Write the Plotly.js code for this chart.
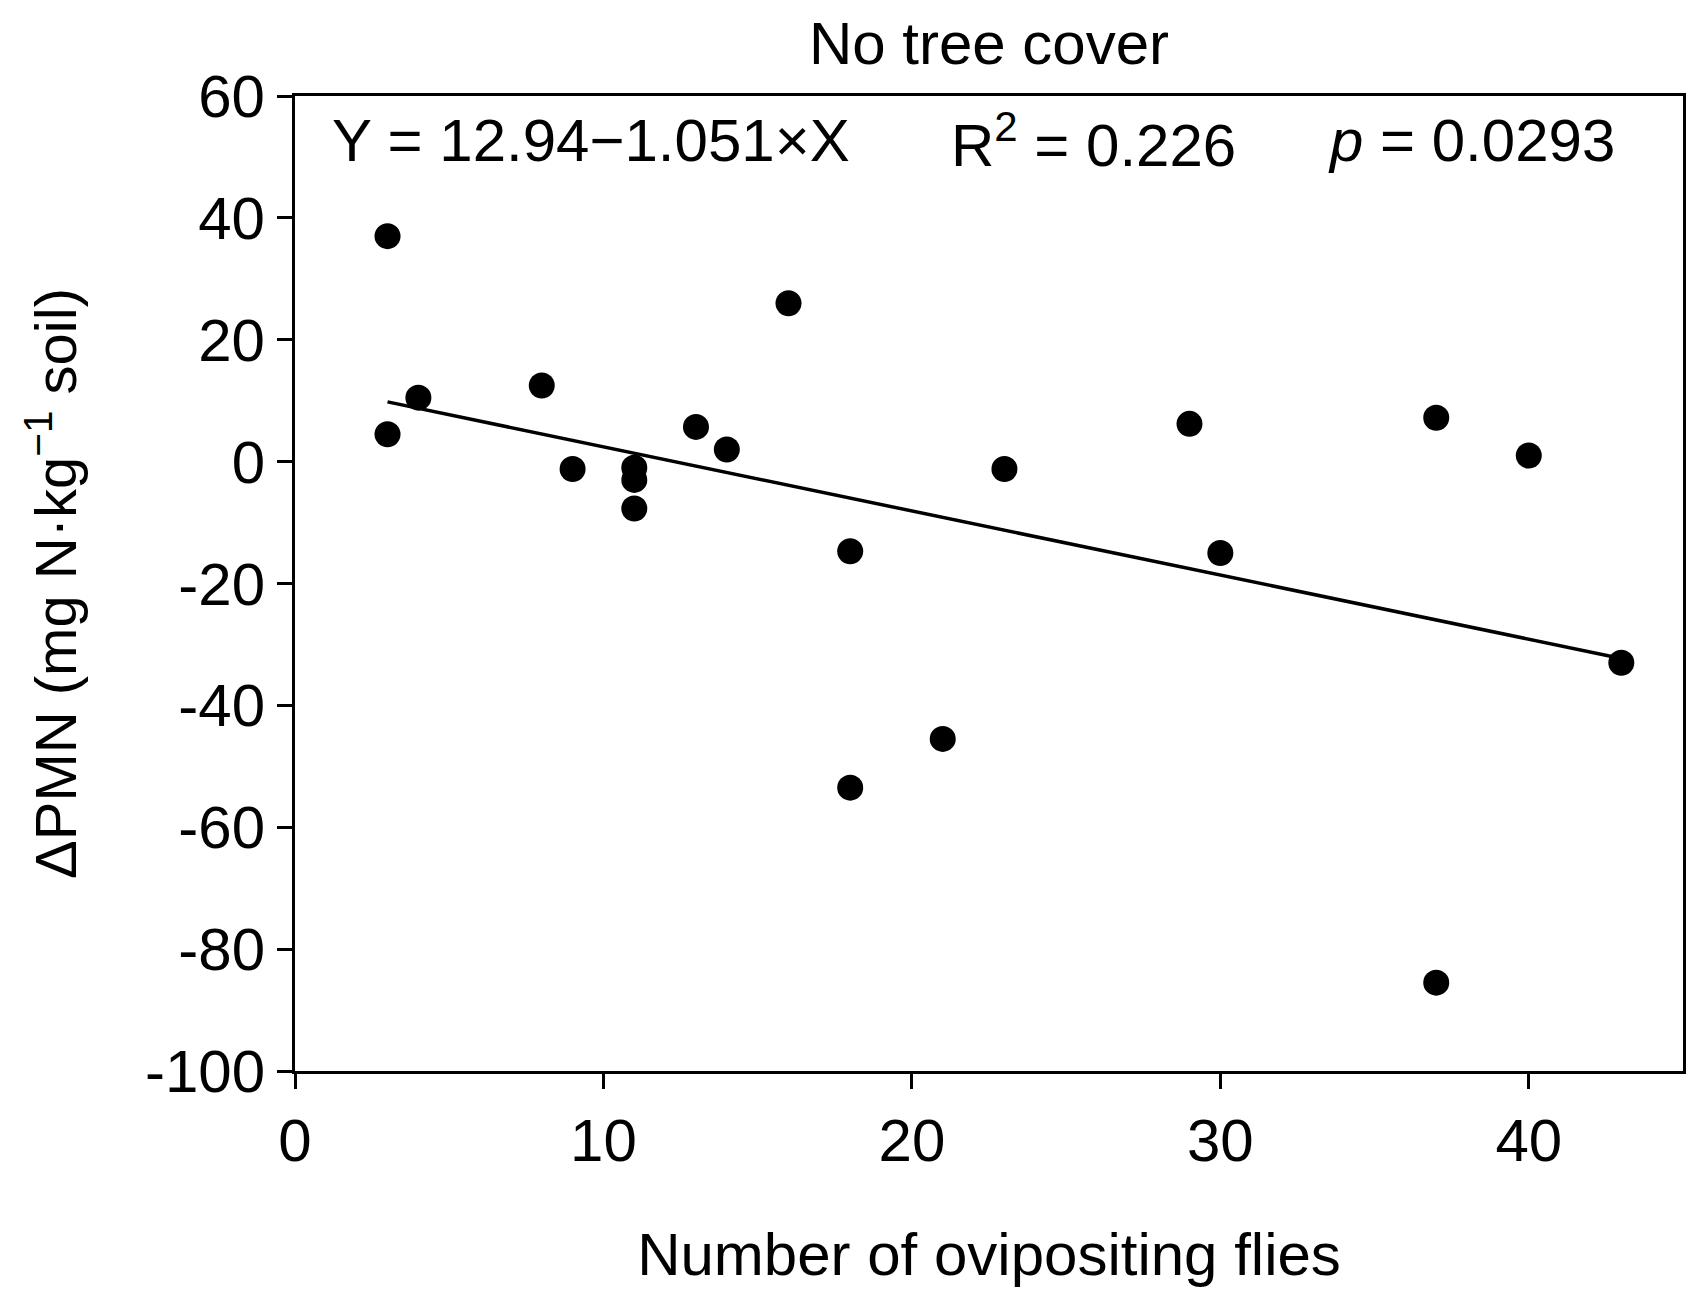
<!DOCTYPE html>
<html>
<head>
<meta charset="utf-8">
<script src="https://cdn.plot.ly/plotly-3.0.1.min.js"></script>
<style>html,body{margin:0;padding:0;background:#fff;}#chart{width:1694px;height:1299px;}</style>
</head>
<body>
<div id="chart"></div>
<script>
// Observed points
const fliesX = [3, 3, 4, 8, 9, 11, 11, 11, 13, 14, 16, 18, 18, 21, 23, 29, 30, 37, 37, 40, 43];
const deltaPMN = [37, 4.5, 10.5, 12.5, -1.2, -1, -3, -7.7, 5.7, 2, 26, -14.7, -53.5, -45.5, -1.2, 6.2, -15, 7.2, -85.5, 1, -33];
// Fitted line endpoints (as drawn)
const fitX = [3, 43];
const fitY = [9.8, -32.3];
// Texts
const titleText = "No tree cover";
const xTitle = "Number of ovipositing flies";
const yTitle = "ΔPMN (mg N·kg<sup>−1</sup> soil)";
const eqText = "Y = 12.94−1.051×X";
const r2Text = "R<sup>2</sup> = 0.226";
const pText = "<i>p</i> = 0.0293";
const xTicks = [0, 10, 20, 30, 40];
const yTicks = [-100, -80, -60, -40, -20, 0, 20, 40, 60];

const FONT = "Liberation Sans, Arial, sans-serif";

const traces = [
  {x: fitX, y: fitY, mode: "lines", type: "scatter", line: {color: "#000", width: 3.5}, hoverinfo: "skip", showlegend: false},
  {x: fliesX, y: deltaPMN, mode: "markers", type: "scatter", marker: {color: "#000", size: 26}, showlegend: false}
];

const layout = {
  width: 1694, height: 1299,
  margin: {l: 295, r: 11, t: 96, b: 228},
  paper_bgcolor: "#fff", plot_bgcolor: "#fff",
  font: {family: FONT, size: 60, color: "#000"},
  title: {text: titleText, font: {family: FONT, size: 60, color: "#000"}, x: 0.5, xref: "paper", xanchor: "center", y: 1 - 43/1299, yref: "container", yanchor: "middle"},
  xaxis: {
    range: [0, 45], tickvals: xTicks, ticktext: xTicks.map(String),
    ticks: "outside", ticklen: 15, tickwidth: 3, tickcolor: "#000",
    showline: true, linecolor: "#000", linewidth: 3, mirror: true,
    showgrid: false, zeroline: false,
    tickfont: {family: FONT, size: 60, color: "#000"},
    title: {text: xTitle, font: {family: FONT, size: 60, color: "#000"}, standoff: 60}
  },
  yaxis: {
    range: [-100, 60], tickvals: yTicks, ticktext: yTicks.map(String),
    ticks: "outside", ticklen: 15, tickwidth: 3, tickcolor: "#000",
    showline: true, linecolor: "#000", linewidth: 3, mirror: true,
    showgrid: false, zeroline: false,
    tickfont: {family: FONT, size: 60, color: "#000"},
    title: {text: yTitle, font: {family: FONT, size: 58, color: "#000"}, standoff: 50}
  },
  annotations: [
    {text: eqText, xref: "paper", yref: "paper", x: 0.025, y: 0.954, xanchor: "left", yanchor: "middle", showarrow: false, font: {family: FONT, size: 60, color: "#000"}},
    {text: r2Text, xref: "paper", yref: "paper", x: 0.471, y: 0.954, xanchor: "left", yanchor: "middle", showarrow: false, font: {family: FONT, size: 60, color: "#000"}},
    {text: pText, xref: "paper", yref: "paper", x: 0.743, y: 0.954, xanchor: "left", yanchor: "middle", showarrow: false, font: {family: FONT, size: 60, color: "#000"}}
  ]
};

Plotly.newPlot("chart", traces, layout, {displayModeBar: false, responsive: false});
</script>
</body>
</html>
